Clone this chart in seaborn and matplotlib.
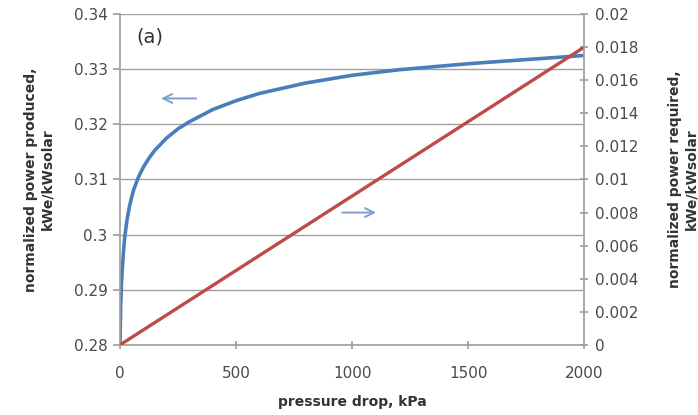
import matplotlib
matplotlib.use("Agg")
import matplotlib.pyplot as plt
import seaborn as sns
import pandas as pd

sns.set_theme(style="white")
plt.rcParams['font.family'] = ['DejaVu Sans']

# data
pressure_blue = [0, 1, 3, 6, 10, 15, 20, 30, 40, 50, 60, 80, 100, 125, 150, 200, 250, 300, 400,
                 500, 600, 800, 1000, 1200, 1500, 1800, 2000]
power_produced = [0.280, 0.2835, 0.2875, 0.291, 0.294, 0.297, 0.2995, 0.3027, 0.305, 0.3068,
                  0.3083, 0.3105, 0.3122, 0.3139, 0.3153, 0.3175, 0.3192, 0.3205, 0.3227,
                  0.3243, 0.3256, 0.3275, 0.3289, 0.3299, 0.3310, 0.3319, 0.3325]
pressure_red = [0, 2000]
power_required = [0.0, 0.018]
left_ticks = [0.28, 0.29, 0.30, 0.31, 0.32, 0.33, 0.34]
left_labels = ["0.28", "0.29", "0.3", "0.31", "0.32", "0.33", "0.34"]
right_ticks = [0, 0.002, 0.004, 0.006, 0.008, 0.01, 0.012, 0.014, 0.016, 0.018, 0.02]
right_labels = ["0", "0.002", "0.004", "0.006", "0.008", "0.01", "0.012", "0.014", "0.016", "0.018", "0.02"]
x_ticks = [0, 500, 1000, 1500, 2000]

df_b = pd.DataFrame({"p": pressure_blue, "v": power_produced})
df_r = pd.DataFrame({"p": pressure_red, "v": power_required})

fig = plt.figure(figsize=(6.98, 4.15), dpi=100)
ax = fig.add_axes([0.172, 0.169, 0.665, 0.797])
ax2 = ax.twinx()

grid_c = "#a0a0a0"
tick_c = "#4a4a4a"

sns.lineplot(data=df_b, x="p", y="v", ax=ax, color="#4a7ebb", linewidth=2.6)
sns.lineplot(data=df_r, x="p", y="v", ax=ax2, color="#be4b48", linewidth=2.4)

ax.set_xlim(0, 2000)
ax.set_ylim(0.28, 0.34)
ax2.set_ylim(0, 0.02)
ax.set_yticks(left_ticks)
ax.set_yticklabels(left_labels)
ax2.set_yticks(right_ticks)
ax2.set_yticklabels(right_labels)
ax.set_xticks(x_ticks)
ax.set_xticklabels([str(t) for t in x_ticks])

for y in left_ticks:
    ax.axhline(y, color=grid_c, linewidth=1.0, zorder=0)

for a in (ax, ax2):
    for s in a.spines.values():
        s.set_visible(False)
ax.spines['left'].set_visible(True)
ax.spines['left'].set_color(grid_c)
ax.spines['bottom'].set_visible(True)
ax.spines['bottom'].set_color(grid_c)
ax2.spines['right'].set_visible(True)
ax2.spines['right'].set_color(grid_c)

ax.tick_params(axis='y', which='both', left=True, direction='out', length=5, color=grid_c,
               labelsize=11, labelcolor=tick_c, pad=4)
ax.tick_params(axis='x', bottom=True, direction='inout', length=6, color=grid_c,
               labelsize=11, labelcolor=tick_c, pad=12)
ax2.tick_params(axis='y', right=True, direction='inout', length=6, color=grid_c,
                labelsize=11, labelcolor=tick_c, pad=5)

ax.set_xlabel("pressure drop, kPa", fontsize=10, fontweight='bold', color="#333333", labelpad=10)
ax.set_ylabel("normalized power produced,\nkWe/kWsolar", fontsize=10, fontweight='bold',
              color="#333333", labelpad=14)
ax2.set_ylabel("normalized power required,\nkWe/kWsolar", fontsize=10, fontweight='bold',
               color="#333333", labelpad=21)

ax.text(0.035, 0.96, "(a)", transform=ax.transAxes, fontsize=14, color="#333333", va='top')

arrow_c = "#7f9fd0"
ax.annotate("", xy=(165, 0.3247), xytext=(340, 0.3247),
            arrowprops=dict(arrowstyle="->", color=arrow_c, lw=1.4, mutation_scale=16))
ax.annotate("", xy=(1115, 0.304), xytext=(945, 0.304),
            arrowprops=dict(arrowstyle="->", color=arrow_c, lw=1.4, mutation_scale=16))

fig.savefig("out.png", dpi=100)
